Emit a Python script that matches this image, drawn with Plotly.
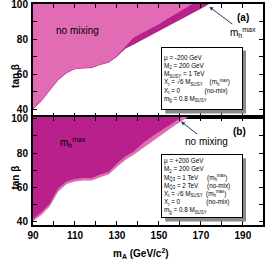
import plotly.graph_objects as go

# ---- data ----
# panel (a): mu = -200 GeV
a_nomix_mA = [90, 94, 98, 102, 106, 110, 114, 118, 122, 126, 130, 134, 138, 142, 146, 150, 154, 158, 162, 166]
a_nomix_tb = [40.5, 45, 51, 57, 61, 63, 63.5, 64, 65.5, 67, 70.5, 76, 81, 83.5, 86, 88.5, 91.5, 94.5, 97.5, 100]
a_mhmax_mA = [90, 94, 98, 102, 106, 110, 114, 118, 122, 126, 130, 134, 138, 142, 146, 150, 154, 158, 162, 166, 170, 174]
a_mhmax_tb = [40, 44.5, 50.5, 56.5, 60.5, 62.8, 63.3, 63.6, 65.2, 66.5, 70, 74.5, 77, 79.5, 82, 84.5, 87, 89.5, 92, 94.5, 97.3, 100]

# panel (b): mu = +200 GeV
b_mhmax_mA = [90, 94, 98, 102, 106, 110, 114, 118, 122, 126, 130, 134, 138, 142, 147, 152, 156, 161]
b_mhmax_tb = [41.7, 45.5, 50.5, 59.5, 63.5, 65, 65.5, 65.5, 67.5, 69, 74, 78, 81, 85.5, 90, 94, 97.5, 101]
b_nomix_mA = [90, 94, 98, 102, 106, 110, 114, 118, 122, 126, 130, 134, 138, 142, 146, 150, 154, 158, 164]
b_nomix_tb = [40.3, 44, 49, 57.5, 62, 63.5, 64, 64, 66, 67.5, 72, 76, 79, 82.5, 86, 90, 93.5, 96.5, 101]

x_ticks = [90, 100, 110, 120, 130, 140, 150, 160, 170, 180, 190]
x_labels = ["90", "", "110", "", "130", "", "150", "", "170", "", "190"]
y_ticks = [40, 50, 60, 70, 80, 90, 100]
y_labels = ["40", "", "60", "", "80", "", "100"]

LIGHT = "#E26CB3"
DARK = "#B8208C"
FONT = "Liberation Sans, Arial, sans-serif"


def region(xs, ys, top):
    px = list(xs) + [xs[-1], xs[0]]
    py = list(ys) + [top, top]
    return px, py


fig = go.Figure()

# panel a: mhmax (dark) under, no mixing (light) over
px, py = region(a_mhmax_mA, a_mhmax_tb, 103)
fig.add_trace(go.Scatter(x=px, y=py, fill="toself", fillcolor=DARK, mode="lines",
                         line=dict(width=0), xaxis="x", yaxis="y", hoverinfo="skip"))
px, py = region(a_nomix_mA, a_nomix_tb, 103)
fig.add_trace(go.Scatter(x=px, y=py, fill="toself", fillcolor=LIGHT, mode="lines",
                         line=dict(width=0), xaxis="x", yaxis="y", hoverinfo="skip"))
# panel b: no mixing (light) under, mhmax (dark) over
px, py = region(b_nomix_mA, b_nomix_tb, 103)
fig.add_trace(go.Scatter(x=px, y=py, fill="toself", fillcolor=LIGHT, mode="lines",
                         line=dict(width=0), xaxis="x2", yaxis="y2", hoverinfo="skip"))
px, py = region(b_mhmax_mA, b_mhmax_tb, 103)
fig.add_trace(go.Scatter(x=px, y=py, fill="toself", fillcolor=DARK, mode="lines",
                         line=dict(width=0), xaxis="x2", yaxis="y2", hoverinfo="skip"))

axis_common = dict(showline=True, linewidth=2, linecolor="black", mirror="ticks",
                   ticks="inside", ticklen=4, tickwidth=1, tickcolor="black",
                   showgrid=False, zeroline=False, automargin=False,
                   ticklabeloverflow="allow",
                   tickfont=dict(family=FONT, size=10, color="black", weight="bold"))

x_dom = [0.124, 0.988]
fig.update_layout(
    width=266, height=273, margin=dict(l=0, r=0, t=0, b=0),
    paper_bgcolor="white", plot_bgcolor="white", showlegend=False,
    xaxis=dict(domain=x_dom, range=[90, 199.5], tickvals=x_ticks, ticktext=x_labels,
               showticklabels=False, anchor="y", **axis_common),
    yaxis=dict(domain=[0.571, 0.985], range=[35.5, 100], tickvals=y_ticks, ticktext=y_labels,
               anchor="x", ticklabelstandoff=1, **axis_common),
    xaxis2=dict(domain=x_dom, range=[90, 199.5], tickvals=x_ticks, ticktext=x_labels,
                anchor="y2", **axis_common),
    yaxis2=dict(domain=[0.175, 0.571], range=[38, 101], tickvals=y_ticks, ticktext=y_labels,
                anchor="x2", ticklabelstandoff=1, **axis_common),
)

# drop shadows behind the parameter boxes
fig.add_shape(type="rect", xref="x", yref="y", x0=153.0, x1=191.5, y0=37.6, y1=73.5,
              fillcolor="#8a8a8a", line=dict(width=0), layer="above")
fig.add_shape(type="rect", xref="x2", yref="y2", x0=153.0, x1=191.5, y0=40.2, y1=77.0,
              fillcolor="#8a8a8a", line=dict(width=0), layer="above")

bold = dict(family=FONT, size=10, color="black", weight="bold")
reg = dict(family=FONT, size=10, color="black")
small = dict(family=FONT, size=6.3, color="black")

box_a = ("μ = -200 GeV<br>M<sub>2</sub> = 200 GeV<br>M<sub>SUSY</sub> = 1 TeV<br>"
         "X<sub>t</sub> = √6 M<sub>SUSY</sub>    (m<sub>h</sub><sup>max</sup>)<br>"
         "X<sub>t</sub> = 0              (no-mix)<br>m<sub>g̃</sub> = 0.8 M<sub>SUSY</sub>")
box_b = ("μ = +200 GeV<br>M<sub>2</sub> = 200 GeV<br>"
         "M<sub>Q̃3</sub> = 1 TeV     (m<sub>h</sub><sup>max</sup>)<br>"
         "M<sub>Q̃3</sub> = 2 TeV     (no-mix)<br>"
         "X<sub>t</sub> = √6 M<sub>SUSY</sub>  (m<sub>h</sub><sup>max</sup>)<br>"
         "X<sub>t</sub> = 0               (no-mix)<br>m<sub>g̃</sub> = 0.8 M<sub>SUSY</sub>")

ann = [
    dict(x=0.03, y=0.775, xref="paper", yref="paper", text="tan β", textangle=-90,
         showarrow=False, font=bold),
    dict(x=0.03, y=0.30, xref="paper", yref="paper", text="tan β", textangle=-90,
         showarrow=False, font=bold),
    dict(x=0.53, y=0.04, xref="paper", yref="paper", text="m<sub>A</sub> (GeV/c<sup>2</sup>)",
         showarrow=False, font=bold),
    dict(x=111, y=85, xref="x", yref="y", text="no mixing", showarrow=False, font=reg),
    dict(x=190, y=92.5, xref="x", yref="y", text="(a)", showarrow=False, font=bold),
    dict(x=174, y=98.5, xref="x", yref="y", ax=190, ay=84, axref="x", ayref="y",
         text="m<sub>h</sub><sup>max</sup>", showarrow=True, arrowhead=2, arrowsize=0.8,
         arrowwidth=1, font=reg, standoff=0),
    dict(x=170.4, y=57.6, xref="x", yref="y", text=box_a, showarrow=False, font=small,
         align="left", valign="middle", width=76, height=57,
         bgcolor="white", bordercolor="black", borderwidth=1, borderpad=2),
    dict(x=109, y=86, xref="x2", yref="y2", text="m<sub>h</sub><sup>max</sup>",
         showarrow=False, font=reg),
    dict(x=188.5, y=92.7, xref="x2", yref="y2", text="(b)", showarrow=False, font=bold),
    dict(x=160.5, y=98.5, xref="x2", yref="y2", ax=172.5, ay=87, axref="x2", ayref="y2",
         text="no mixing", showarrow=True, arrowhead=2, arrowsize=0.8, arrowwidth=1,
         font=reg, standoff=0),
    dict(x=170.4, y=60.9, xref="x2", yref="y2", text=box_b, showarrow=False, font=small,
         align="left", valign="middle", width=76, height=58,
         bgcolor="white", bordercolor="black", borderwidth=1, borderpad=2),
]
fig.update_layout(annotations=ann)

fig.write_html("out.html", config={"displayModeBar": False},
               post_script="document.body.style.margin='0';document.body.style.overflow='hidden';")
